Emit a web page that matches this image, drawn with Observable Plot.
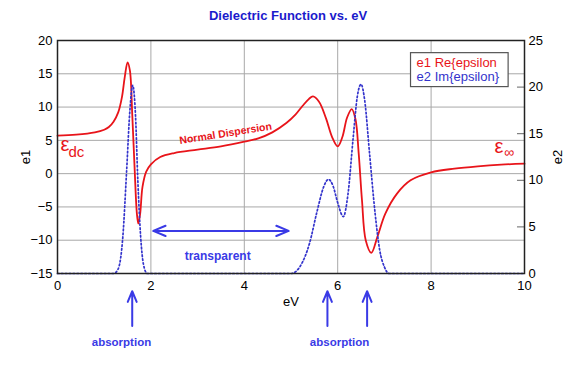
<!DOCTYPE html>
<html>
<head>
<meta charset="utf-8">
<script src="https://cdn.jsdelivr.net/npm/d3@7"></script>
<script src="https://cdn.jsdelivr.net/npm/@observablehq/plot@0.6"></script>
<style>
  html, body { margin: 0; padding: 0; background: white; }
  #title { height: 28px; width: 576px; text-align: center; font: bold 13px "Liberation Sans", Arial, sans-serif; color: #1a1acc; line-height: 32px; }
</style>
</head>
<body>
<div id="title">Dielectric Function vs. eV</div>
<div id="chart"></div>
<script>
// e1 = Re{epsilon} (left axis)
const eV1 = [0, 0.4, 0.8, 1.0, 1.1, 1.2, 1.3, 1.38, 1.44, 1.5, 1.55, 1.6, 1.65, 1.7, 1.73, 1.77, 1.82, 1.9, 2.0, 2.2, 2.5, 3.0, 3.5, 4.0, 4.3, 4.6, 4.9, 5.1, 5.25, 5.38, 5.47, 5.6, 5.75, 5.88, 6.0, 6.1, 6.2, 6.3, 6.38, 6.45, 6.52, 6.6, 6.72, 6.85, 7.02, 7.27, 7.56, 8.0, 8.5, 9.0, 9.5, 10];
const e1  = [5.7, 5.85, 6.2, 6.6, 7.0, 7.8, 9.2, 11.5, 14.5, 16.7, 15.5, 9, 1, -6, -7.5, -6, -2, 0.3, 1.4, 2.5, 3.1, 3.6, 4.1, 4.8, 5.3, 6.2, 7.6, 8.9, 10.2, 11.2, 11.6, 10.8, 8.3, 5.5, 4.1, 5.5, 8.4, 9.7, 8.2, 3, -4, -10, -11.9, -9.5, -6, -3, -1, 0.2, 0.75, 1.1, 1.35, 1.5];
// e2 = Im{epsilon} (right axis)
const eV2 = [0, 1.2, 1.3, 1.4, 1.48, 1.55, 1.61, 1.67, 1.72, 1.78, 1.84, 1.92, 5.0, 5.2, 5.4, 5.55, 5.7, 5.8, 5.9, 6.0, 6.12, 6.22, 6.33, 6.42, 6.5, 6.58, 6.68, 6.8, 6.9, 7.0, 7.1, 10];
const e2  = [0, 0, 0.5, 4, 11, 17.5, 20.2, 17, 10, 4, 1, 0, 0, 0.8, 3.3, 6.5, 9.3, 10.1, 9.4, 7.6, 6.1, 8.5, 14.5, 19, 20.3, 18.5, 13, 6.5, 2.5, 0.7, 0, 0];

const xTicks = [0, 2, 4, 6, 8, 10];
const e1Ticks = [-15, -10, -5, 0, 5, 10, 15, 20];
const e2Ticks = [0, 5, 10, 15, 20, 25];

// annotations
const absorbX = [1.6, 5.78, 6.63];
const absorbLabels = [{x: 1.37, t: "absorption"}, {x: 6.04, t: "absorption"}];
const legendRows = [{t: "e1 Re{epsilon", c: "#e8141a", y: 16.6}, {t: "e2 Im{epsilon}", c: "#3333cc", y: 14.5}];

// map e2 onto the e1 scale: e2 0..25 -> e1 -15..20
const e1Dom = [-15, 20], e2Dom = [0, 25];
const toE1 = v => e1Dom[0] + (v - e2Dom[0]) * (e1Dom[1] - e1Dom[0]) / (e2Dom[1] - e2Dom[0]);
const toE2 = v => e2Dom[0] + (v - e1Dom[0]) * (e2Dom[1] - e2Dom[0]) / (e1Dom[1] - e1Dom[0]);

const d1 = eV1.map((x, i) => ({x, y: e1[i]}));
const d2 = eV2.map((x, i) => ({x, y: toE1(e2[i])}));

const red = "#e8141a", blue = "#3333cc", arrowBlue = "#3a3ae6";

const chart = Plot.plot({
  width: 576,
  height: 338,
  marginTop: 12,
  marginBottom: 93,
  marginLeft: 57,
  marginRight: 52,
  x: {domain: [0, 10]},
  y: {domain: e1Dom},
  style: {fontFamily: "'Liberation Sans', Arial, sans-serif", fontSize: "13px", color: "black", background: "white"},
  marks: [
    Plot.gridY(e1Ticks.slice(1, -1), {stroke: "#a8a8a8", strokeOpacity: 1, strokeWidth: 1}),
    Plot.gridX(xTicks.slice(1, -1), {stroke: "#a8a8a8", strokeOpacity: 1, strokeWidth: 1}),
    Plot.ruleY(e2Ticks.slice(1, -1).map(toE1), {x1: 9.85, x2: 10, stroke: "#666", strokeWidth: 1}),
    // legend box
    Plot.rect([{}], {x1: 7.57, x2: 9.66, y1: 13.0, y2: 18.1, fill: "white", stroke: "#555", strokeWidth: 1.2}),
    Plot.text(legendRows, {x: 7.69, y: "y", text: "t", fill: "c", textAnchor: "start", fontSize: 13}),
    Plot.line(d1, {x: "x", y: "y", stroke: red, strokeWidth: 1.8, curve: "catmull-rom"}),
    Plot.line(d2, {x: "x", y: "y", stroke: blue, strokeWidth: 1.7, strokeDasharray: "1.6 2.3", curve: "monotone-x"}),
    Plot.frame({stroke: "#222", strokeWidth: 1.5}),
    Plot.axisY(e1Ticks, {anchor: "left", tickSize: 0, tickPadding: 5, label: "e1", labelAnchor: "center", labelOffset: 37, labelArrow: "none", fontSize: 13}),
    Plot.axisY(e2Ticks.map(toE1), {anchor: "right", tickSize: 0, tickPadding: 4, tickFormat: d => Math.round(toE2(d)), label: "e2", labelAnchor: "center", labelOffset: 37, labelArrow: "none", fontSize: 13}),
    Plot.axisX(xTicks, {anchor: "bottom", tickSize: 0, tickPadding: 7, label: "eV", labelAnchor: "center", labelOffset: 32, labelArrow: "none", fontSize: 13}),
    // epsilon annotations
    Plot.text([{x: 0.064, y: 3.35}], {x: "x", y: "y", text: () => "ε", fill: red, fontSize: 20, textAnchor: "start", lineAnchor: "bottom"}),
    Plot.text([{x: 0.235, y: 2.5}], {x: "x", y: "y", text: () => "dc", fill: red, fontSize: 15, textAnchor: "start", lineAnchor: "bottom"}),
    Plot.text([{x: 9.36, y: 3.05}], {x: "x", y: "y", text: () => "ε", fill: red, fontSize: 20, textAnchor: "start", lineAnchor: "bottom"}),
    Plot.text([{x: 9.56, y: 2.45}], {x: "x", y: "y", text: () => "∞", fill: red, fontSize: 14, textAnchor: "start", lineAnchor: "bottom"}),
    Plot.text([{x: 3.6, y: 6.05}], {x: "x", y: "y", text: () => "Normal Dispersion", fill: red, fontSize: 10.5, fontWeight: "bold", rotate: -9}),
    // transparent window
    Plot.arrow([{x1: 3.5, x2: 2.05}, {x1: 3.5, x2: 4.95}], {x1: "x1", x2: "x2", y1: -8.6, y2: -8.6, stroke: arrowBlue, strokeWidth: 2, headLength: 10, headAngle: 45}),
    Plot.text([{x: 3.43, y: -12.35}], {x: "x", y: "y", text: () => "transparent", fill: arrowBlue, fontSize: 12, fontWeight: "bold"}),
    // absorption arrows below the axis
    Plot.arrow(absorbX, {x1: d => d, x2: d => d, y1: -22.9, y2: -17.65, stroke: arrowBlue, strokeWidth: 2, headLength: 10, headAngle: 45}),
    Plot.text(absorbLabels, {x: "x", y: -25.4, text: "t", fill: arrowBlue, fontSize: 11.5, fontWeight: "bold"})
  ]
});
document.getElementById("chart").appendChild(chart);
</script>
</body>
</html>
